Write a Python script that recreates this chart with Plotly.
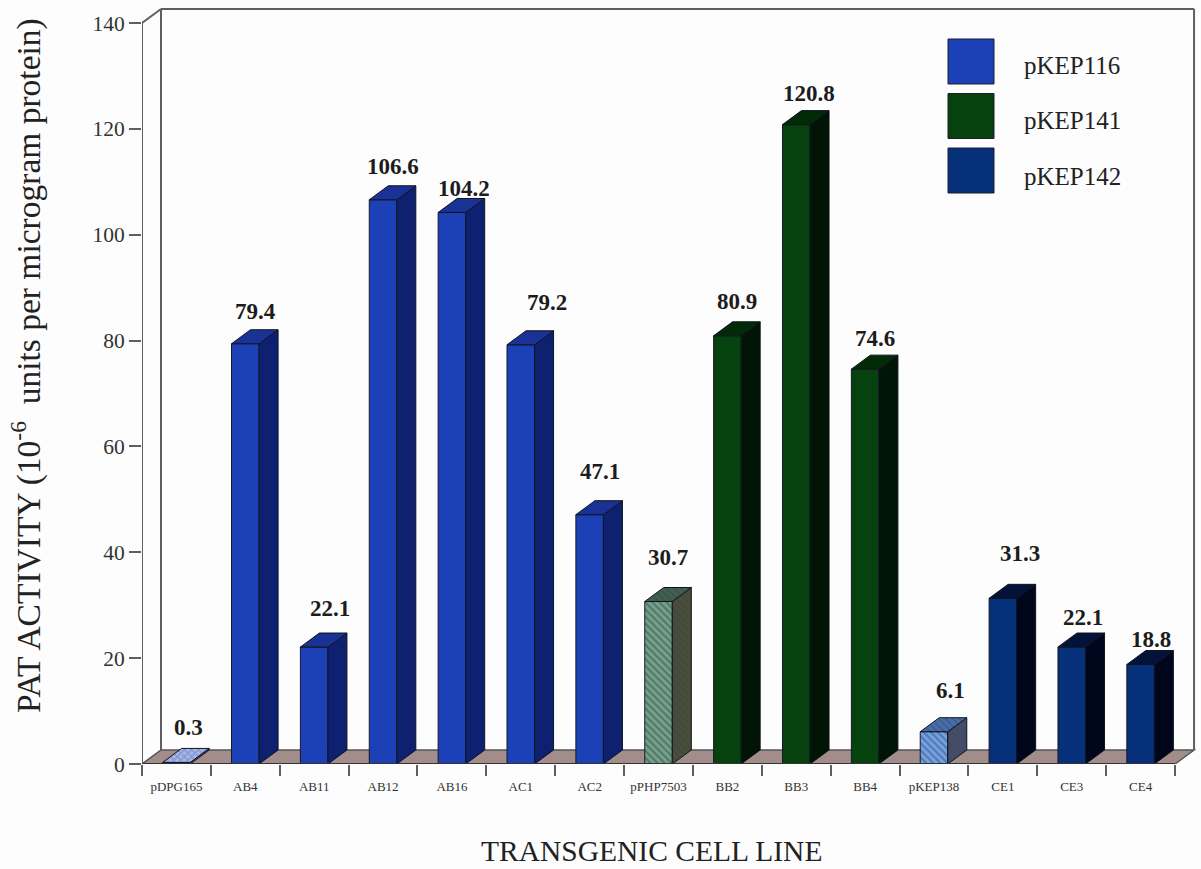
import plotly.graph_objects as go

categories = ["pDPG165", "AB4", "AB11", "AB12", "AB16", "AC1", "AC2", "pPHP7503",
              "BB2", "BB3", "BB4", "pKEP138", "CE1", "CE3", "CE4"]
values = [0.3, 79.4, 22.1, 106.6, 104.2, 79.2, 47.1, 30.7, 80.9, 120.8, 74.6, 6.1, 31.3, 22.1, 18.8]
groups = ["ctrl1", "pKEP116", "pKEP116", "pKEP116", "pKEP116", "pKEP116", "pKEP116", "ctrl2",
          "pKEP141", "pKEP141", "pKEP141", "ctrl3", "pKEP142", "pKEP142", "pKEP142"]
legend_names = ["pKEP116", "pKEP141", "pKEP142"]
y_ticks = [0, 20, 40, 60, 80, 100, 120, 140]

# label nudges (px) relative to bar centre / value
label_dx = [12, 10, 16, 10, 12, 26, 10, 9, 10, 13, 10, 16, 17, 11, 10]
label_dy = [35, 32, 39, 33, 24, 42, 43, 44, 34, 31, 31, 41, 45, 30, 25]

STYLE = {
    "pKEP116": dict(front="#1c41b6", side="#0e2070", top="#1a3296"),
    "pKEP141": dict(front="#06420d", side="#001505", top="#032a07"),
    "pKEP142": dict(front="#07307a", side="#00071c", top="#021238"),
    "ctrl1": dict(front="#9db0e4", side="#44506e", top="#a4b6e6", hatch="x", fg="#5a6cb0"),
    "ctrl2": dict(front="#74a08c", side="#4b4d3a", top="#42604e", hatch="\\", fg="#33483e"),
    "ctrl3": dict(front="#74a2e0", side="#474d60", top="#4a6fa8", hatch="\\", fg="#2f4a80"),
}

W, H = 1201, 869
L, BOTTOM = 142, 105
PX_X = 68.87          # px per category
PX_Y = 5.293          # px per y unit
DX = 19 / PX_X        # 3-D depth in x units
DY = 14 / PX_Y        # 3-D depth in y units
BW = 0.40             # bar width in category units
N = len(categories)
YMAX = 140
SERIF = "Liberation Serif"
INK = "#222222"
EDGE = "#5f5f5f"
centers = [i + 0.5 for i in range(N)]

fig = go.Figure()


def pattern(st, size=5):
    if "hatch" not in st:
        return None
    return dict(shape=st["hatch"], fgcolor=st["fg"], size=size, solidity=0.4)


def px_x(px):
    return (px - L) / (W - L)


def px_y(px):
    return 1 - px / (H - BOTTOM)


# front faces as real bars, one trace per group
for g in STYLE:
    idx = [i for i in range(N) if groups[i] == g]
    st = STYLE[g]
    marker = dict(color=st["front"], line=dict(color="#15182a", width=1))
    p = pattern(st)
    if p:
        p["bgcolor"] = st["front"]
        marker["pattern"] = p
    fig.add_trace(go.Bar(x=[centers[i] for i in idx], y=[values[i] for i in idx],
                         width=BW, marker=marker, name=g, showlegend=False))


def face(xs, ys, color, st):
    kw = {}
    p = pattern(st, 5)
    if p:
        p["bgcolor"] = color
        kw["fillpattern"] = p
    fig.add_trace(go.Scatter(x=xs, y=ys, mode="lines", fill="toself", fillcolor=color,
                             line=dict(color="#101320", width=1), showlegend=False,
                             hoverinfo="skip", **kw))


# side and top faces computed from the values
for i, v in enumerate(values):
    st = STYLE[groups[i]]
    x0, x1 = centers[i] - BW / 2, centers[i] + BW / 2
    face([x1, x1 + DX, x1 + DX, x1, x1], [0, DY, v + DY, v, 0], st["side"], st)
    face([x0, x1, x1 + DX, x0 + DX, x0], [v, v, v + DY, v + DY, v], st["top"], st)

# front axis lines
fig.add_trace(go.Scatter(x=[0, 0], y=[0, YMAX], mode="lines", line=dict(color=EDGE, width=2),
                         showlegend=False, hoverinfo="skip"))
fig.add_trace(go.Scatter(x=[0, N], y=[0, 0], mode="lines", line=dict(color="#333333", width=2),
                         showlegend=False, hoverinfo="skip"))

shapes = [
    # floor
    dict(type="path", layer="below", xref="x", yref="y",
         path=f"M 0 0 L {N} 0 L {N+DX} {DY} L {DX} {DY} Z",
         fillcolor="#a28d8b", line=dict(color="#555555", width=1.5)),
    # left wall, top and right edges
    dict(type="line", layer="below", xref="x", yref="y", x0=DX, x1=DX, y0=DY, y1=YMAX + DY,
         line=dict(color=EDGE, width=2)),
    dict(type="line", layer="below", xref="x", yref="y", x0=0, x1=DX, y0=YMAX, y1=YMAX + DY,
         line=dict(color=EDGE, width=2)),
    dict(type="line", layer="below", xref="x", yref="y", x0=DX, x1=N + DX, y0=YMAX + DY, y1=YMAX + DY,
         line=dict(color=EDGE, width=2)),
    dict(type="line", layer="below", xref="x", yref="y", x0=N + DX, x1=N + DX, y0=DY, y1=YMAX + DY,
         line=dict(color=EDGE, width=2)),
]

annotations = []
for i, v in enumerate(values):
    annotations.append(dict(x=centers[i], y=v, xref="x", yref="y", text=f"<b>{v}</b>", showarrow=False,
                            xanchor="center", yanchor="middle",
                            xshift=label_dx[i], yshift=label_dy[i],
                            font=dict(family=SERIF, size=23, color="#1c1c1c")))

# legend swatches
for k, name in enumerate(legend_names):
    top = 39 + k * 54.5
    shapes.append(dict(type="rect", xref="paper", yref="paper", x0=px_x(948), x1=px_x(994),
                       y0=px_y(top + 45), y1=px_y(top),
                       fillcolor=STYLE[name]["front"], line=dict(color="#1a1f2e", width=1)))
    annotations.append(dict(x=px_x(1022), y=px_y(65 + k * 55.5), xref="paper", yref="paper",
                            xanchor="left", yanchor="middle", text=name, showarrow=False,
                            font=dict(family=SERIF, size=25, color=INK)))

# axis titles
annotations.append(dict(x=px_x(651), y=px_y(851), xref="paper", yref="paper",
                        xanchor="center", yanchor="middle",
                        text="TRANSGENIC CELL LINE", showarrow=False,
                        font=dict(family=SERIF, size=29.5, color=INK)))
annotations.append(dict(x=px_x(26), y=px_y(366), xref="paper", yref="paper",
                        xanchor="center", yanchor="middle",
                        text="PAT ACTIVITY (10<sup>-6</sup>  units per microgram protein)", textangle=-90,
                        showarrow=False, font=dict(family=SERIF, size=33.5, color=INK)))

fig.update_layout(
    width=W, height=H, autosize=False,
    margin=dict(l=L, r=0, t=0, b=BOTTOM, pad=0),
    paper_bgcolor="#fdfdfd", plot_bgcolor="#fdfdfd",
    showlegend=False, barmode="overlay", shapes=shapes, annotations=annotations,
    xaxis=dict(range=[0, (W - L) / PX_X], showgrid=False, zeroline=False, showline=False, automargin=False,
               tickmode="array", tickvals=centers, ticktext=categories, ticks="", ticklen=0,
               ticklabelstandoff=13, tickangle=0,
               tickfont=dict(family=SERIF, size=13, color="#333333"),
               minor=dict(tickmode="array", tickvals=list(range(N + 1)), ticks="outside", ticklen=11,
                          tickwidth=2, tickcolor=EDGE, showgrid=False)),
    yaxis=dict(range=[0, (H - BOTTOM) / PX_Y], showgrid=False, zeroline=False, showline=False, automargin=False,
               tickmode="array", tickvals=y_ticks, ticks="outside", ticklen=12, tickwidth=2, tickcolor=EDGE,
               tickfont=dict(family=SERIF, size=21.5, color="#333333")),
)

fig.write_html("out.html", config={"displayModeBar": False},
               post_script="document.body.style.margin='0';document.body.style.background='#fdfdfd';")
